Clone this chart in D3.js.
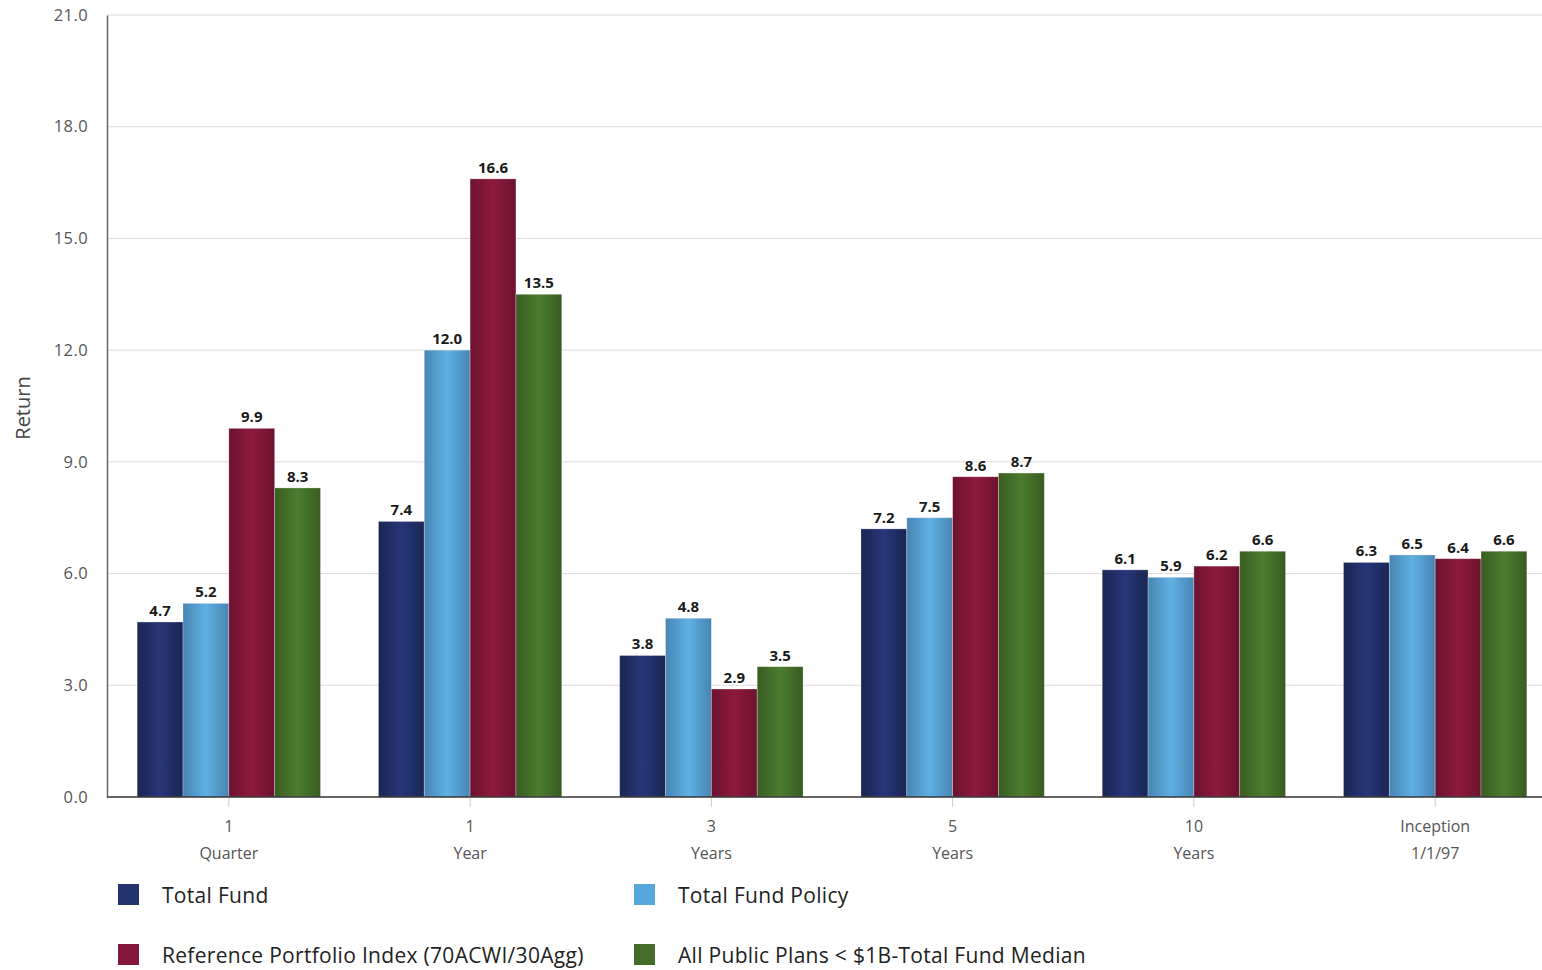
<!DOCTYPE html>
<html>
<head>
<meta charset="utf-8">
<script src="https://cdn.jsdelivr.net/npm/d3@7"></script>
<style>
  html, body { margin: 0; padding: 0; background: #fff; }
  svg { display: block; font-family: "Open Sans", Lato, sans-serif; }
</style>
</head>
<body>
<svg id="chart" width="1542" height="970"></svg>
<script>
// Periods along the x axis (two-line labels)
const periods = [
  ["1", "Quarter"],
  ["1", "Year"],
  ["3", "Years"],
  ["5", "Years"],
  ["10", "Years"],
  ["Inception", "1/1/97"]
];
const seriesNames = [
  "Total Fund",
  "Total Fund Policy",
  "Reference Portfolio Index (70ACWI/30Agg)",
  "All Public Plans < $1B-Total Fund Median"
];
const totalFund       = [4.7, 7.4, 3.8, 7.2, 6.1, 6.3];
const totalFundPolicy = [5.2, 12.0, 4.8, 7.5, 5.9, 6.5];
const referenceIndex  = [9.9, 16.6, 2.9, 8.6, 6.2, 6.4];
const planMedian      = [8.3, 13.5, 3.5, 8.7, 6.6, 6.6];
const yTicks = [0, 3, 6, 9, 12, 15, 18, 21];

const seriesValues = [totalFund, totalFundPolicy, referenceIndex, planMedian];
// [edge, center] colours for each series' horizontal shading
const palette = [
  ["#1b2652", "#26367a"],
  ["#4785b3", "#60b0e3"],
  ["#6c1230", "#8e1a3c"],
  ["#395c22", "#4c7d2f"]
];
const swatch = ["#23336e", "#57a6dc", "#84173a", "#436d29"];

const W = 1542, H = 970;
const plotLeft = 107, plotTop = 15, plotBottom = 797;
const plotRight = 1557;

const svg = d3.select("#chart");
const defs = svg.append("defs");
palette.forEach((c, i) => {
  const g = defs.append("linearGradient")
    .attr("id", "grad" + i).attr("x1", "0%").attr("x2", "100%").attr("y1", "0%").attr("y2", "0%");
  g.append("stop").attr("offset", "0%").attr("stop-color", c[0]);
  g.append("stop").attr("offset", "50%").attr("stop-color", c[1]);
  g.append("stop").attr("offset", "100%").attr("stop-color", c[0]);
});

const x0 = d3.scaleBand().domain(d3.range(periods.length)).range([plotLeft, plotRight]).paddingInner(0.24).paddingOuter(0.125);
const x1 = d3.scaleBand().domain(d3.range(seriesNames.length)).range([0, x0.bandwidth()]).padding(0);
const y = d3.scaleLinear().domain([0, 21]).range([plotBottom, plotTop]);

// gridlines
svg.append("g").selectAll("line").data(yTicks.filter(d => d > 0)).join("line")
  .attr("x1", plotLeft).attr("x2", W)
  .attr("y1", d => y(d)).attr("y2", d => y(d))
  .attr("stroke", "#dcdcdc").attr("stroke-width", 1);

// y axis
const yAxis = svg.append("g").attr("transform", `translate(${plotLeft},0)`)
  .call(d3.axisLeft(y).tickValues(yTicks).tickFormat(d3.format(".1f")).tickSize(0).tickPadding(19));
yAxis.select(".domain").attr("stroke", "#666").attr("stroke-width", 1.5);
yAxis.selectAll("text").attr("font-size", 16.5).attr("fill", "#555").attr("font-family", "'Open Sans', sans-serif")
  .attr("letter-spacing", 0.4);

svg.append("text")
  .attr("transform", `translate(30,${(plotTop + plotBottom) / 2 + 2}) rotate(-90)`)
  .attr("text-anchor", "middle")
  .attr("font-size", 20).attr("fill", "#444")
  .text("Return");

// bars
const groups = svg.append("g").selectAll("g").data(periods).join("g")
  .attr("transform", (d, i) => `translate(${x0(i)},0)`);

groups.each(function(p, i) {
  const g = d3.select(this);
  const vals = seriesValues.map((s, k) => ({ k, v: s[i] }));
  g.selectAll("rect").data(vals).join("rect")
    .attr("x", d => x1(d.k))
    .attr("width", x1.bandwidth())
    .attr("y", d => y(d.v))
    .attr("height", d => y(0) - y(d.v))
    .attr("fill", d => `url(#grad${d.k})`)
    .attr("stroke", "rgba(255,255,255,0.35)").attr("stroke-width", 0.8);
  g.selectAll("text").data(vals).join("text")
    .attr("x", d => x1(d.k) + x1.bandwidth() / 2)
    .attr("y", d => y(d.v) - 6)
    .attr("text-anchor", "middle")
    .attr("font-size", 15).attr("font-weight", "bold")
    .attr("fill", "#1a1a1a")
    .text(d => d3.format(".1f")(d.v));
});

// x axis
svg.append("line").attr("x1", plotLeft).attr("x2", W).attr("y1", plotBottom).attr("y2", plotBottom)
  .attr("stroke", "#333").attr("stroke-width", 1.5);
const xt = svg.append("g").selectAll("g").data(periods).join("g")
  .attr("transform", (d, i) => `translate(${x0(i) + x0.bandwidth() / 2},0)`);
xt.append("line").attr("y1", plotBottom + 1).attr("y2", plotBottom + 10).attr("stroke", "#ccc");
xt.append("text").attr("y", 832).attr("text-anchor", "middle").attr("font-size", 16).attr("fill", "#555").text(d => d[0]);
xt.append("text").attr("y", 859).attr("text-anchor", "middle").attr("font-size", 16).attr("fill", "#555").text(d => d[1]);

// legend
const legendPos = [[118, 884], [634, 884], [118, 944], [634, 944]];
const lg = svg.append("g").selectAll("g").data(seriesNames).join("g")
  .attr("transform", (d, i) => `translate(${legendPos[i][0]},${legendPos[i][1]})`);
lg.append("rect").attr("width", 21).attr("height", 21).attr("fill", (d, i) => swatch[i]);
lg.append("text").attr("x", 44).attr("y", 19).attr("font-size", 21).attr("letter-spacing", 0.3)
  .attr("fill", "#222").text(d => d);
</script>
</body>
</html>
